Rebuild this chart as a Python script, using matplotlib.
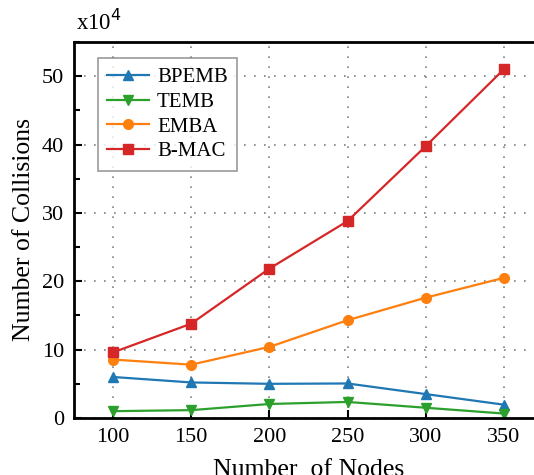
import matplotlib
matplotlib.use('Agg')
import matplotlib.pyplot as plt
from matplotlib.ticker import MultipleLocator

# data (x10^4)
nodes = [100, 150, 200, 250, 300, 350]
bpemb = [6.0, 5.2, 5.0, 5.05, 3.5, 1.95]
temb = [1.0, 1.15, 2.05, 2.35, 1.5, 0.65]
emba = [8.55, 7.8, 10.4, 14.3, 17.6, 20.5]
bmac = [9.6, 13.8, 21.85, 28.8, 39.75, 51.0]

plt.rcParams['font.family'] = ['Liberation Serif', 'DejaVu Serif']

fig = plt.figure(figsize=(5.34, 4.75), dpi=100)
ax = fig.add_axes([0.1386, 0.12, 0.878, 0.7916])

ax.plot(nodes, bpemb, color='#1f77b4', marker='^', ms=7, lw=1.6, label='BPEMB')
ax.plot(nodes, temb, color='#2ca02c', marker='v', ms=7, lw=1.6, label='TEMB')
ax.plot(nodes, emba, color='#ff7f0e', marker='o', ms=7, lw=1.6, label='EMBA')
ax.plot(nodes, bmac, color='#d62728', marker='s', ms=6.5, lw=1.6, label='B-MAC')

ax.set_xlim(75, 375)
ax.set_ylim(0, 55)
ax.set_xticks(nodes)
ax.yaxis.set_major_locator(MultipleLocator(10))
ax.yaxis.set_minor_locator(MultipleLocator(5))
ax.tick_params(direction='in', labelsize=16, length=6, width=1.5, pad=7)
ax.tick_params(which='minor', direction='in', length=4, width=1.5)
ax.grid(True, color='gray', linestyle=(0, (1, 5)), linewidth=1.2)
for s in ax.spines.values():
    s.set_linewidth(2)
ax.spines['right'].set_visible(False)

ax.set_xlabel('Number  of Nodes', fontsize=18.5, labelpad=9)
ax.set_ylabel('Number of Collisions', fontsize=18.5, labelpad=5)
ax.text(0.005, 1.02, r'x10$^{4}$', transform=ax.transAxes, fontsize=16.5,
        ha='left', va='bottom')

leg = ax.legend(loc='upper left', bbox_to_anchor=(0.028, 0.985), fontsize=15,
                fancybox=False, edgecolor='gray', handlelength=2.0,
                borderpad=0.45, labelspacing=0.25, handletextpad=0.4)
leg.get_frame().set_linewidth(1.2)

plt.savefig('out.png', dpi=100)
